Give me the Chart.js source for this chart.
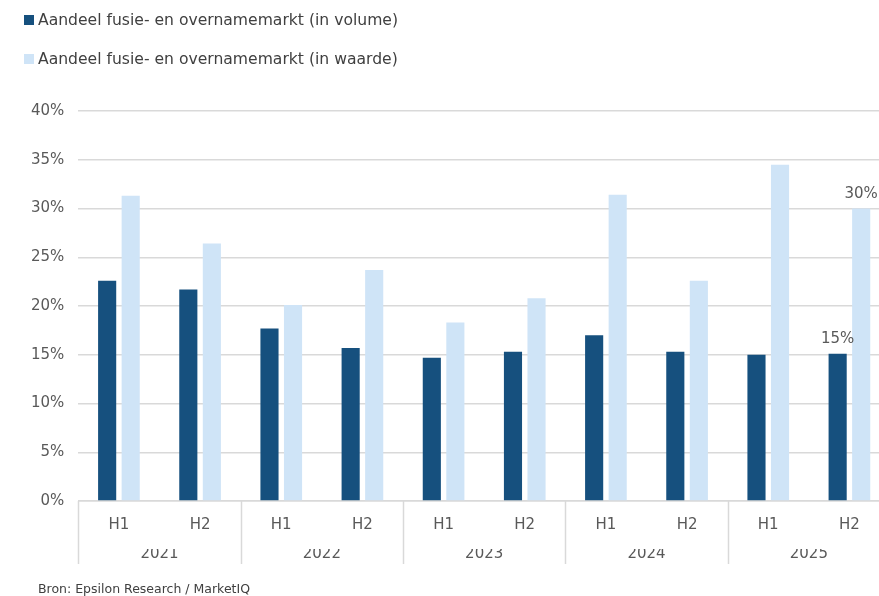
<!DOCTYPE html>
<html>
<head>
<meta charset="utf-8">
<script src="https://cdn.jsdelivr.net/npm/chart.js@4/dist/chart.umd.min.js"></script>
<style>
  html, body { margin: 0; padding: 0; background: #fff; overflow: hidden; }
  body { width: 879px; height: 596px; position: relative; font-family: "DejaVu Sans", sans-serif; }
  .legend { position: absolute; left: 24px; top: 8px; color: #404040; font-size: 15.6px; }
  .legend div { height: 39px; line-height: 24px; white-space: nowrap; }
  .legend span { display: inline-block; width: 10px; height: 10px; margin-right: 4px; vertical-align: 0px; }
  .wrap { position: absolute; left: 0; top: 0; width: 890px; height: 596px; }
  .source { position: absolute; left: 38px; top: 581px; font-size: 12.5px; color: #404040; }
</style>
</head>
<body>
<div class="wrap"><canvas id="chart"></canvas></div>
<div class="legend" id="legend"></div>
<div class="source">Bron: Epsilon Research / MarketIQ</div>
<script>
const halves = ['H1', 'H2', 'H1', 'H2', 'H1', 'H2', 'H1', 'H2', 'H1', 'H2'];
const years = ['2021', '2022', '2023', '2024', '2025'];
const volume = [22.6, 21.7, 17.7, 15.7, 14.7, 15.3, 17.0, 15.3, 15.0, 15.1];
const waarde = [31.3, 26.4, 20.1, 23.7, 18.3, 20.8, 31.4, 22.6, 34.5, 30.0];
const seriesNames = ['Aandeel fusie- en overnamemarkt (in volume)', 'Aandeel fusie- en overnamemarkt (in waarde)'];
const colours = ['#16507e', '#cfe4f7'];
const textColor = '#595959';
const font = { family: 'DejaVu Sans', size: 15 };

const legend = document.getElementById('legend');
seriesNames.forEach((name, i) => {
  const row = document.createElement('div');
  row.innerHTML = `<span style="background:${colours[i]}"></span>${name}`;
  legend.appendChild(row);
});

// vertical separators between the years, below the axis
const yearLines = {
  id: 'yearLines',
  afterDraw(chart) {
    const { ctx, chartArea } = chart;
    const x = chart.scales.x;
    const w = (x.right - x.left) / years.length;
    ctx.save();
    ctx.strokeStyle = '#d9d9d9';
    ctx.lineWidth = 1.5;
    for (let i = 0; i <= years.length; i++) {
      const px = Math.round(x.left + i * w) + 0.5;
      ctx.beginPath();
      ctx.moveTo(px, chartArea.bottom);
      ctx.lineTo(px, chartArea.bottom + 63);
      ctx.stroke();
    }
    ctx.restore();
  },
};

// value labels on the last period only
const lastLabels = {
  id: 'lastLabels',
  afterDatasetsDraw(chart) {
    const { ctx } = chart;
    ctx.save();
    ctx.fillStyle = textColor;
    ctx.font = '15px "DejaVu Sans"';
    ctx.textAlign = 'center';
    ctx.textBaseline = 'bottom';
    chart.data.datasets.forEach((ds, i) => {
      const bar = chart.getDatasetMeta(i).data[ds.data.length - 1];
      ctx.fillText(Math.round(ds.data[ds.data.length - 1]) + '%', bar.x, bar.y - 7);
    });
    ctx.restore();
  },
};

new Chart(document.getElementById('chart'), {
  type: 'bar',
  data: {
    labels: halves,
    datasets: seriesNames.map((name, i) => ({
      label: name,
      data: i === 0 ? volume : waarde,
      backgroundColor: colours[i],
      categoryPercentage: 0.58,
      barPercentage: 0.77,
    })),
  },
  plugins: [yearLines, lastLabels],
  options: {
    responsive: true,
    maintainAspectRatio: false,
    animation: false,
    layout: { padding: { top: 111, left: 17, right: 0, bottom: 37 } },
    plugins: { legend: { display: false }, tooltip: { enabled: false } },
    scales: {
      y: {
        min: 0,
        max: 40,
        ticks: { stepSize: 5, color: textColor, padding: 14, font, callback: v => v + '%' },
        grid: { color: '#d9d9d9', lineWidth: 1.5, drawTicks: false },
        border: { display: false },
      },
      x: {
        grid: { display: false, drawTicks: false },
        border: { color: '#d9d9d9', width: 1.5 },
        ticks: { color: textColor, padding: 15, font },
      },
      x2: {
        type: 'category',
        position: 'bottom',
        labels: years,
        grid: { display: false, drawTicks: false },
        border: { display: false },
        ticks: { color: textColor, padding: -4, font },
      },
    },
  },
});
</script>
</body>
</html>
